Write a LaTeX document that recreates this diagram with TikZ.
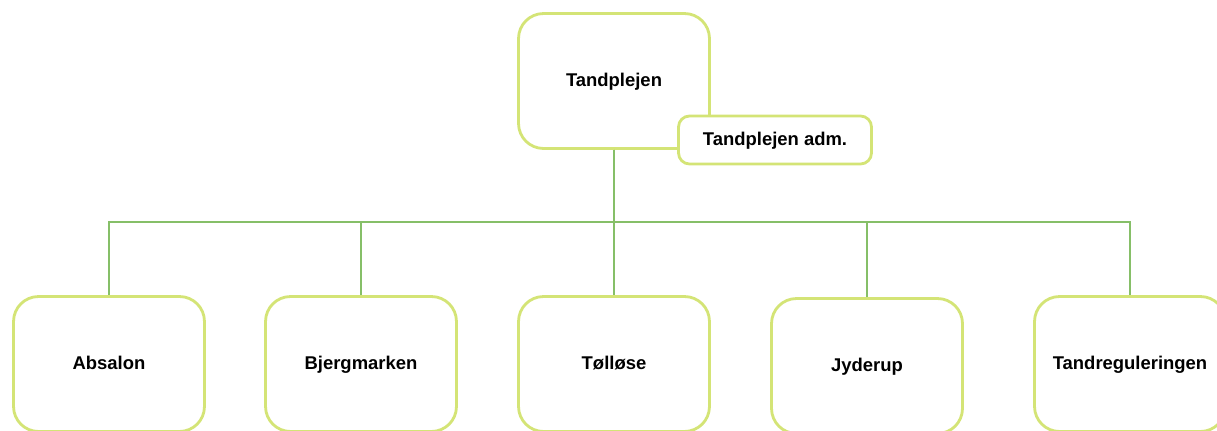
\documentclass[tikz,border=0pt]{standalone}
\usepackage{fontspec}
\setmainfont{Liberation Sans}
\definecolor{boxgreen}{RGB}{212,228,118}
\definecolor{linegreen}{RGB}{134,191,104}
\tikzset{
  unit/.style={draw=boxgreen, line width=1.6pt, rounded corners=0.5cm, fill=white,
    minimum width=3.82cm, minimum height=2.7cm, text height=1.6ex, text depth=0.5ex,
    font=\bfseries\fontsize{10.5}{12}\selectfont},
  admbox/.style={unit, minimum width=3.86cm, minimum height=0.96cm, rounded corners=0.22cm},
  orgline/.style={draw=linegreen, line width=1pt}
}
\begin{document}
\begin{tikzpicture}[x=0.02cm,y=-0.02cm]
    \useasboundingbox (0,0) rectangle (1217,430);
    \clip (0,0) rectangle (1217,430);
    \node[unit] (top) at (614,81) {Tandplejen};
    \node[admbox] (adm) at (775,140) {Tandplejen adm.};
    \coordinate (bus) at (613,222);
    \foreach \name/\x/\y/\txt in {absalon/109/364/Absalon,bjerg/361/364/Bjergmarken,
        tolloese/614/364/Tølløse,jyderup/867/366/Jyderup,regul/1130/364/Tandreguleringen}
      {
      \node[unit] (\name) at (\x,\y) {\txt};
      \draw[orgline] (top.south) -- (top.south |- bus) -| (\name.north);
      }
  \end{tikzpicture}
\end{document}
